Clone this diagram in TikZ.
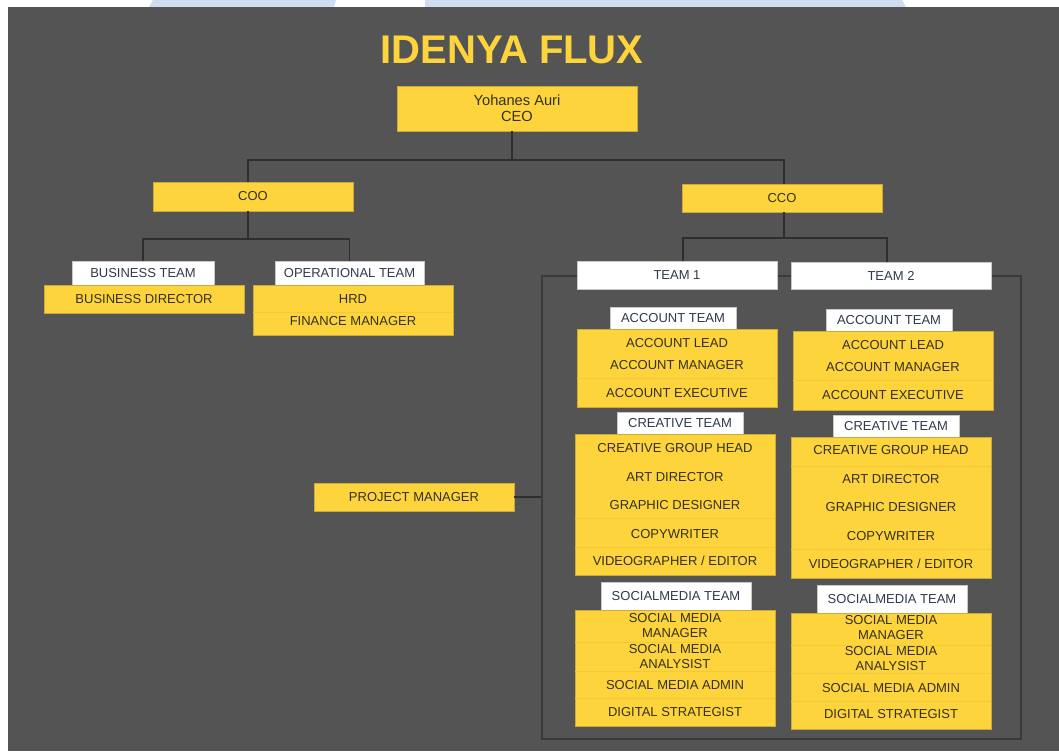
\documentclass[tikz,border=0pt]{standalone}
\usepackage{fontspec}
\setmainfont{Liberation Sans}
\definecolor{bgdark}{HTML}{545454}
\definecolor{wmblue}{HTML}{CFDEEE}
\definecolor{boxyellow}{HTML}{FDD43C}
\definecolor{boxedge}{HTML}{C9AA3C}
\definecolor{boxtext}{HTML}{35301F}
\definecolor{teamtext}{HTML}{2F3A4C}
\definecolor{linedark}{HTML}{2E2E2E}
\definecolor{framedark}{HTML}{3A3A3A}
\definecolor{sepyellow}{HTML}{F1C93A}
\tikzset{
  role/.style={text=boxtext, inner sep=0pt, align=center, font=\fontsize{9.75}{11.25}\selectfont},
  ybox/.style={role, draw=boxedge, line width=0.5pt, fill=boxyellow, minimum width=150pt},
  wbox/.style={draw=gray!45, line width=0.5pt, fill=white, text=teamtext, inner sep=0pt, font=\fontsize{9.75}{11}\selectfont},
  link/.style={draw=linedark, line width=0.9pt},
  sepline/.style={draw=sepyellow, line width=0.4pt},
}
\begin{document}
\begin{tikzpicture}[x=0.75pt,y=-0.75pt]
\useasboundingbox (0,0) rectangle (1059,751);
% background
\fill[white] (0,0) rectangle (1059,751);
\fill[wmblue] (149,7) -- (153,0) -- (336,0) -- (334,7) -- cycle;
\fill[wmblue] (425,7) -- (425,0) -- (902,0) -- (906,7) -- cycle;
\fill[bgdark] (8,7) rectangle (1059,751);

\node[text=boxyellow, font=\fontsize{30}{36}\selectfont\bfseries] (title) at (512,50) {IDENYA FLUX};

% top level
\node[ybox, minimum width=180pt, minimum height=33.75pt, font=\fontsize{11}{12}\selectfont] (ceo) at (517,108.5) {Yohanes Auri\\CEO};
\node[ybox, minimum height=21.75pt] (coo) at (253,196.5) {COO};
\node[ybox, minimum height=21pt] (cco) at (782,198) {CCO};
\coordinate (ceobus) at (512,160);
\draw[link] ([xshift=-3.75pt]ceo.south) -- (ceobus);
\draw[link] ([xshift=-3.75pt]coo.north) |- (ceobus) -| ([xshift=1.5pt]cco.north);

% coo side
\node[wbox, minimum width=106.5pt, minimum height=18pt] (bizteam) at (143,273) {BUSINESS TEAM};
\node[ybox, minimum height=21pt] (bizdir) at (144,299) {BUSINESS DIRECTOR};
\node[wbox, minimum width=111.75pt, minimum height=18pt] (opsteam) at (349.5,273) {OPERATIONAL TEAM};
\node[ybox, minimum height=37.5pt] (opsgrp) at (353,310) {};
\draw[sepline] (opsgrp.west |- 0,312) -- (opsgrp.east |- 0,312);
\node[role] (hrd) at (353,299) {HRD};
\node[role] (finmgr) at (353,321) {FINANCE MANAGER};
\coordinate (coobus) at (248,239);
\draw[link] ([xshift=-3.75pt]coo.south) -- (coobus);
\draw[link] (bizteam.north) |- (coobus) -| (opsteam.north);

% cco side
\node[draw=framedark, line width=1pt, inner sep=0pt, minimum width=359.25pt, minimum height=347.25pt] (teams) at (781.5,507.5) {};
\node[wbox, minimum width=150pt, minimum height=21pt] (teamone) at (677,275) {TEAM 1};
\node[wbox, minimum width=150pt, minimum height=20.25pt] (teamtwo) at (891,275.5) {TEAM 2};
\coordinate (ccobus) at (784,238);
\draw[link] ([xshift=1.5pt]cco.south) -- (ccobus);
\draw[link] ([xshift=4.5pt]teamone.north) |- (ccobus) -| ([xshift=-3pt]teamtwo.north);

\node[ybox, minimum height=21pt] (pm) at (414,497) {PROJECT MANAGER};
\draw[link] (pm.east) -- (pm.east -| teams.west);

% team 1
\node[wbox, minimum width=94.5pt, minimum height=16.5pt] (accone) at (673,318) {ACCOUNT TEAM};
\node[ybox, minimum height=58.5pt] (accgrpone) at (677,368) {};
\draw[sepline] (accgrpone.west |- 0,378) -- (accgrpone.east |- 0,378);
\node[role] (aleadone) at (677,343) {ACCOUNT LEAD};
\node[role] (amgrone) at (677,365) {ACCOUNT MANAGER};
\node[role] (aexecone) at (677,393) {ACCOUNT EXECUTIVE};

\node[wbox, minimum width=94.5pt, minimum height=16.5pt] (creone) at (680,423) {CREATIVE TEAM};
\node[ybox, minimum height=105.75pt] (cregrpone) at (675,504.5) {};
\draw[sepline] (cregrpone.west |- 0,518) -- (cregrpone.east |- 0,518);
\draw[sepline] (cregrpone.west |- 0,547) -- (cregrpone.east |- 0,547);
\node[role] (cgheadone) at (675,448) {CREATIVE GROUP HEAD};
\node[role] (artdirone) at (675,477) {ART DIRECTOR};
\node[role] (gdesone) at (675,505) {GRAPHIC DESIGNER};
\node[role] (copyone) at (675,534) {COPYWRITER};
\node[role] (videoone) at (675,561) {VIDEOGRAPHER / EDITOR};

\node[wbox, minimum width=112.5pt, minimum height=21pt] (socone) at (676,596) {SOCIALMEDIA TEAM};
\node[ybox, minimum height=87pt] (socgrpone) at (675,668) {};
\draw[sepline] (socgrpone.west |- 0,642) -- (socgrpone.east |- 0,642);
\draw[sepline] (socgrpone.west |- 0,671) -- (socgrpone.east |- 0,671);
\draw[sepline] (socgrpone.west |- 0,698) -- (socgrpone.east |- 0,698);
\node[role] (smmgrone) at (675,626) {SOCIAL MEDIA\\MANAGER};
\node[role] (smanaone) at (675,657) {SOCIAL MEDIA\\ANALYSIST};
\node[role] (smadmone) at (675,685) {SOCIAL MEDIA ADMIN};
\node[role] (digstrone) at (675,712) {DIGITAL STRATEGIST};

% team 2
\node[wbox, minimum width=94.5pt, minimum height=16.5pt] (acctwo) at (889,320) {ACCOUNT TEAM};
\node[ybox, minimum height=59.25pt] (accgrptwo) at (893,370.5) {};
\draw[sepline] (accgrptwo.west |- 0,380) -- (accgrptwo.east |- 0,380);
\node[role] (aleadtwo) at (893,345) {ACCOUNT LEAD};
\node[role] (amgrtwo) at (893,367) {ACCOUNT MANAGER};
\node[role] (aexectwo) at (893,395) {ACCOUNT EXECUTIVE};

\node[wbox, minimum width=94.5pt, minimum height=16.5pt] (cretwo) at (896,426) {CREATIVE TEAM};
\node[ybox, minimum height=105.75pt] (cregrptwo) at (891,507.5) {};
\draw[sepline] (cregrptwo.west |- 0,466) -- (cregrptwo.east |- 0,466);
\draw[sepline] (cregrptwo.west |- 0,549) -- (cregrptwo.east |- 0,549);
\node[role] (cgheadtwo) at (891,450) {CREATIVE GROUP HEAD};
\node[role] (artdirtwo) at (891,479) {ART DIRECTOR};
\node[role] (gdestwo) at (891,507) {GRAPHIC DESIGNER};
\node[role] (copytwo) at (891,536) {COPYWRITER};
\node[role] (videotwo) at (891,564) {VIDEOGRAPHER / EDITOR};

\node[wbox, minimum width=112.5pt, minimum height=21pt] (soctwo) at (892,599) {SOCIALMEDIA TEAM};
\node[ybox, minimum height=87pt] (socgrptwo) at (891,671) {};
\draw[sepline] (socgrptwo.west |- 0,645) -- (socgrptwo.east |- 0,645);
\draw[sepline] (socgrptwo.west |- 0,673) -- (socgrptwo.east |- 0,673);
\draw[sepline] (socgrptwo.west |- 0,701) -- (socgrptwo.east |- 0,701);
\node[role] (smmgrtwo) at (891,628) {SOCIAL MEDIA\\MANAGER};
\node[role] (smanatwo) at (891,659) {SOCIAL MEDIA\\ANALYSIST};
\node[role] (smadmtwo) at (891,688) {SOCIAL MEDIA ADMIN};
\node[role] (digstrtwo) at (891,714) {DIGITAL STRATEGIST};
\end{tikzpicture}
\end{document}
